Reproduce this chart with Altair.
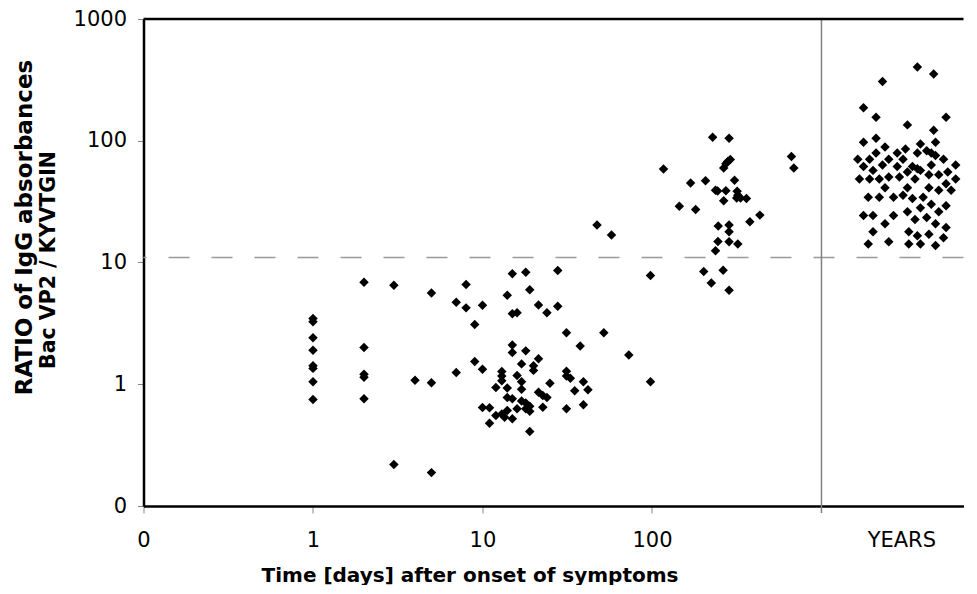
import altair as alt
import pandas as pd

# ---- data ----
acute_days = [1, 1, 1, 1, 1, 1, 1, 1,
              2, 2, 2, 2, 2,
              3, 3, 4, 5, 5, 5, 7, 7, 8, 8, 9, 9, 10, 10, 10, 11, 11, 12, 12,
              13, 13, 13, 13, 13.5, 14, 14, 14, 14,
              15, 15, 15, 15, 15, 15, 16, 16, 16, 17, 17, 17, 17,
              18, 18, 18, 18, 19, 19, 19, 19, 20, 20, 21.4, 21.4, 21.4, 22.7, 22.7,
              24, 24, 25, 27.8, 27.8, 31.3, 31.3, 31.3, 31.3, 33, 35, 37.7, 39.4, 39.4,
              41.9, 47.4, 52, 57.7, 73, 98, 98]
acute_ratio = [3.47, 3.26, 2.41, 1.90, 1.42, 1.35, 1.05, 0.75,
               6.87, 2.0, 1.21, 1.14, 0.76,
               6.49, 0.219, 1.08, 5.62, 1.03, 0.188, 4.72, 1.25, 6.6, 4.24, 3.10, 1.535,
               4.46, 1.33, 0.643, 0.64, 0.479, 0.94, 0.553,
               0.571, 1.27, 1.17, 1.07, 0.536, 5.38, 0.78, 0.93, 0.608,
               8.09, 3.80, 2.10, 1.82, 0.52, 0.76, 3.86, 1.18, 0.628, 1.47, 1.05, 0.91, 0.73,
               8.33, 1.88, 0.70, 0.63, 5.98, 0.66, 0.60, 0.41, 1.42, 1.30, 0.86, 4.47, 1.62,
               0.81, 0.647, 3.86, 0.78, 1.02, 8.6, 4.37, 2.65, 1.28, 1.17, 0.63, 1.12, 0.885,
               2.06, 1.05, 0.68, 0.90, 20.3, 2.65, 16.8, 1.74, 7.83, 1.05]

late_days = [117, 145, 169, 181, 202, 207, 224, 228, 237, 237, 244, 245, 246, 263,
             265, 265, 273, 273, 280, 285, 285, 285, 285, 285, 290, 307, 318, 321,
             316, 321, 333, 361, 378, 433, 665, 687]
late_ratio = [58.5, 29.0, 45.0, 27.2, 8.45, 47.0, 6.78, 107, 39.2, 12.5, 38.7, 14.9, 19.9, 8.65,
              59.7, 32.1, 64.7, 38.9, 67.6, 105, 20.3, 17.9, 14.8, 5.91, 70.2, 47.3, 38.5, 35.7,
              33.9, 14.2, 33.9, 33.5, 21.6, 24.5, 74.3, 59.7]

# convalescent sera taken years after onset, spread across the "YEARS" column
years_pos = [3681, 4592, 2291, 1770, 2099, 5433, 3215, 4592, 1770, 2099, 4710, 3837,
             2371, 3131, 2099, 2799, 3681, 4178, 4446, 4710, 1637, 1923, 2495, 3027,
             5248, 1770, 2291, 2799, 3443, 3681, 3837, 4446, 6194, 2014, 3215, 1675,
             1923, 2194, 2495, 2884, 3565, 4305, 4920, 5560, 6194, 5433, 2371, 3215,
             4305, 4920, 5821, 1888, 2194, 2661, 3027, 3443, 3981, 4446, 3837, 5433,
             3215, 4920, 1770, 2014, 2661, 3565, 4178, 2371, 4710, 5433, 2014, 3275,
             3681, 4305, 5248, 1888, 2495, 3275, 3837, 4710]
years_ratio = [403, 354, 306, 187, 156, 156, 135, 122, 97.3, 105, 97.3, 94.2,
               89.0, 85.7, 79.4, 79.4, 79.4, 82.6, 79.4, 75.7, 70.6, 70.6, 70.6, 70.6,
               70.6, 61.4, 63.1, 61.4, 61.4, 58.9, 57.1, 63.1, 63.1, 57.1, 55.3, 48.5,
               48.5, 48.5, 50.4, 50.4, 48.5, 52.6, 52.6, 55.3, 48.5, 44.4, 41.1, 41.1,
               41.1, 39.2, 39.2, 34.4, 34.4, 34.4, 35.7, 33.5, 34.4, 30.1, 28.1, 29.2,
               26.1, 26.1, 24.3, 24.3, 24.3, 22.6, 23.4, 20.8, 20.8, 19.4, 17.9, 17.9,
               16.6, 17.1, 16.0, 14.2, 14.8, 14.2, 14.2, 13.8]

x_tick_values = [0.1, 1, 10, 100, 2960]
y_tick_values = [0.1, 1, 10, 100, 1000]
cutoff_ratio = [11]
years_boundary = [1000]
top_line = [1000]
y_title_1 = "RATIO of IgG absorbances"
y_title_2 = "Bac VP2 / KYVTGIN"
x_title = "Time [days] after onset of symptoms"

df = pd.DataFrame({
    "days": acute_days + late_days + years_pos,
    "ratio": acute_ratio + late_ratio + years_ratio,
})

FONT = "DejaVu Sans"
xscale = alt.Scale(type="log", domain=[0.1, 6887], nice=False)
yscale = alt.Scale(type="log", domain=[0.1, 1000], nice=False)

points = alt.Chart(df).mark_point(
    shape="diamond", filled=True, size=90, color="black", opacity=1
).encode(
    x=alt.X("days:Q", scale=xscale, axis=alt.Axis(
        values=x_tick_values,
        labelExpr="datum.value > 2000 ? 'YEARS' : format(datum.value, 'd')",
        title=x_title, titleX=326, titleY=75, titleAlign="center",
        titleBaseline="alphabetic", titleFont=FONT, titleFontSize=20,
        titleFontWeight="bold", titleColor="black",
        labelFont=FONT, labelFontSize=21, labelColor="black", labelPadding=16,
        labelFlush=False, labelOverlap=False,
        tickSize=7, tickColor="#888888", tickWidth=1,
        tickOpacity={"condition": {"test": "datum.value > 2000", "value": 0}, "value": 1},
        domainColor="black", domainWidth=2.5, grid=False)),
    y=alt.Y("ratio:Q", scale=yscale, axis=alt.Axis(
        values=y_tick_values,
        labelExpr="format(datum.value, 'd')",
        title=y_title_1, titleX=-119.5, titleY=208, titleAngle=270,
        titleAlign="center", titleBaseline="middle",
        titleFont=FONT, titleFontSize=23, titleFontWeight="bold", titleColor="black",
        labelFont=FONT, labelFontSize=21, labelColor="black", labelPadding=11,
        labelFlush=False, labelOverlap=False,
        tickSize=6, tickColor="#888888", tickWidth=1,
        domainColor="black", domainWidth=2.5, grid=False)),
)

hline = alt.Chart(pd.DataFrame({"ratio": cutoff_ratio})).mark_rule(
    color="#999999", strokeWidth=1.5, strokeDash=[21, 22]
).encode(y=alt.Y("ratio:Q", scale=yscale))

vline = alt.Chart(pd.DataFrame({"days": years_boundary})).mark_rule(
    color="#808080", strokeWidth=1.5
).encode(x=alt.X("days:Q", scale=xscale), y=alt.value(0), y2=alt.value(494))

top = alt.Chart(pd.DataFrame({"ratio": top_line})).mark_rule(
    color="black", strokeWidth=2.5
).encode(y=alt.Y("ratio:Q", scale=yscale))

title2 = alt.Chart(pd.DataFrame({"t": [y_title_2]})).mark_text(
    angle=270, font=FONT, fontWeight="bold", fontSize=20.5, align="center",
    baseline="middle", color="black"
).encode(text="t:N", x=alt.value(-94.7), y=alt.value(241))

chart = alt.layer(points, hline, vline, top, title2).properties(
    width=820, height=487,
    padding={"left": 4.5, "top": 0, "right": 0, "bottom": 0},
    background="white",
).configure_view(stroke=None)

chart.save("out.html", embed_options={"renderer": "svg", "actions": False})
